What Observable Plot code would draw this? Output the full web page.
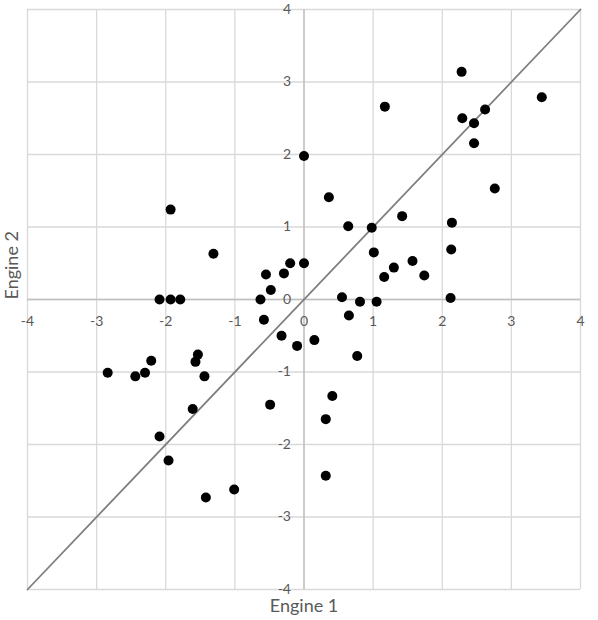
<!DOCTYPE html>
<html>
<head>
<meta charset="utf-8">
<script src="https://cdn.jsdelivr.net/npm/d3@7"></script>
<script src="https://cdn.jsdelivr.net/npm/@observablehq/plot@0.6"></script>
<style>
  html, body { margin: 0; padding: 0; background: #fff; }
  #chart { width: 598px; height: 620px; }
</style>
</head>
<body>
<div id="chart"></div>
<script>
const engine1 = [-1.93,-1.31,-0.20,0.00,-0.55,-0.29,-0.48,-2.09,-1.93,-1.79,-0.63,0.00,
  2.28,3.44,1.17,2.62,2.29,2.46,2.46,2.76,0.36,1.42,0.64,0.98,2.14,1.01,2.13,1.57,1.30,1.74,1.16,
  0.55,0.81,1.05,2.12,0.65,-0.10,0.15,0.77,0.41,0.315,0.315,-0.58,-0.325,
  -2.84,-2.44,-2.30,-2.21,-1.535,-1.57,-1.44,-1.61,-0.49,-2.09,-1.96,-1.01,-1.42];
const engine2 = [1.24,0.63,0.50,0.50,0.345,0.36,0.13,0,0,0,0,1.98,
  3.14,2.79,2.66,2.62,2.50,2.43,2.155,1.53,1.41,1.15,1.01,0.99,1.06,0.65,0.69,0.53,0.44,0.33,0.31,
  0.03,-0.03,-0.03,0.02,-0.22,-0.64,-0.56,-0.78,-1.33,-1.65,-2.43,-0.28,-0.50,
  -1.01,-1.06,-1.01,-0.845,-0.76,-0.86,-1.06,-1.51,-1.45,-1.89,-2.22,-2.62,-2.73];
const ticks = [-4,-3,-2,-1,0,1,2,3,4];
const xTickLabels = ["-4","-3","-2","-1","0","1","2","3","4"];
const yTickLabels = ["-4","-3","-2","-1","0","1","2","3","4"];
const diagonal = [-4, 4];
const points = engine1.map((x, i) => ({x, y: engine2[i]}));

const font = "Lato, 'Open Sans', sans-serif";
const chart = Plot.plot({
  width: 598,
  height: 620,
  marginLeft: 27,
  marginRight: 18,
  marginTop: 9,
  marginBottom: 31,
  style: {fontFamily: font, background: "#fff"},
  x: {domain: [-4, 4], axis: null},
  y: {domain: [-4, 4], axis: null},
  marks: [
    Plot.gridX(ticks, {stroke: "#d9d9d9", strokeOpacity: 1, strokeWidth: 1.3}),
    Plot.gridY(ticks, {stroke: "#d9d9d9", strokeOpacity: 1, strokeWidth: 1.3}),
    Plot.ruleX([0], {stroke: "#bfbfbf", strokeWidth: 1.3}),
    Plot.ruleY([0], {stroke: "#bfbfbf", strokeWidth: 1.3}),
    Plot.line(diagonal, {x: d => d, y: d => d, stroke: "#7f7f7f", strokeWidth: 1.8}),
    Plot.dot(points, {x: "x", y: "y", r: 5, fill: "#000", stroke: "none"}),
    Plot.text(xTickLabels, {x: (d, i) => ticks[i], y: () => 0, text: d => d, dy: 22, fill: "#595959", fontSize: 14}),
    Plot.text(yTickLabels, {x: () => 0, y: (d, i) => ticks[i], text: d => d, dx: -13, textAnchor: "end", fill: "#595959", fontSize: 14}),
    Plot.text(["Engine 1"], {frameAnchor: "bottom", lineAnchor: "top", dy: 10, fill: "#595959", fontSize: 18}),
    Plot.text(["Engine 2"], {frameAnchor: "left", dx: -15, rotate: -90, fill: "#595959", fontSize: 18})
  ]
});
document.getElementById("chart").appendChild(chart);
</script>
</body>
</html>
